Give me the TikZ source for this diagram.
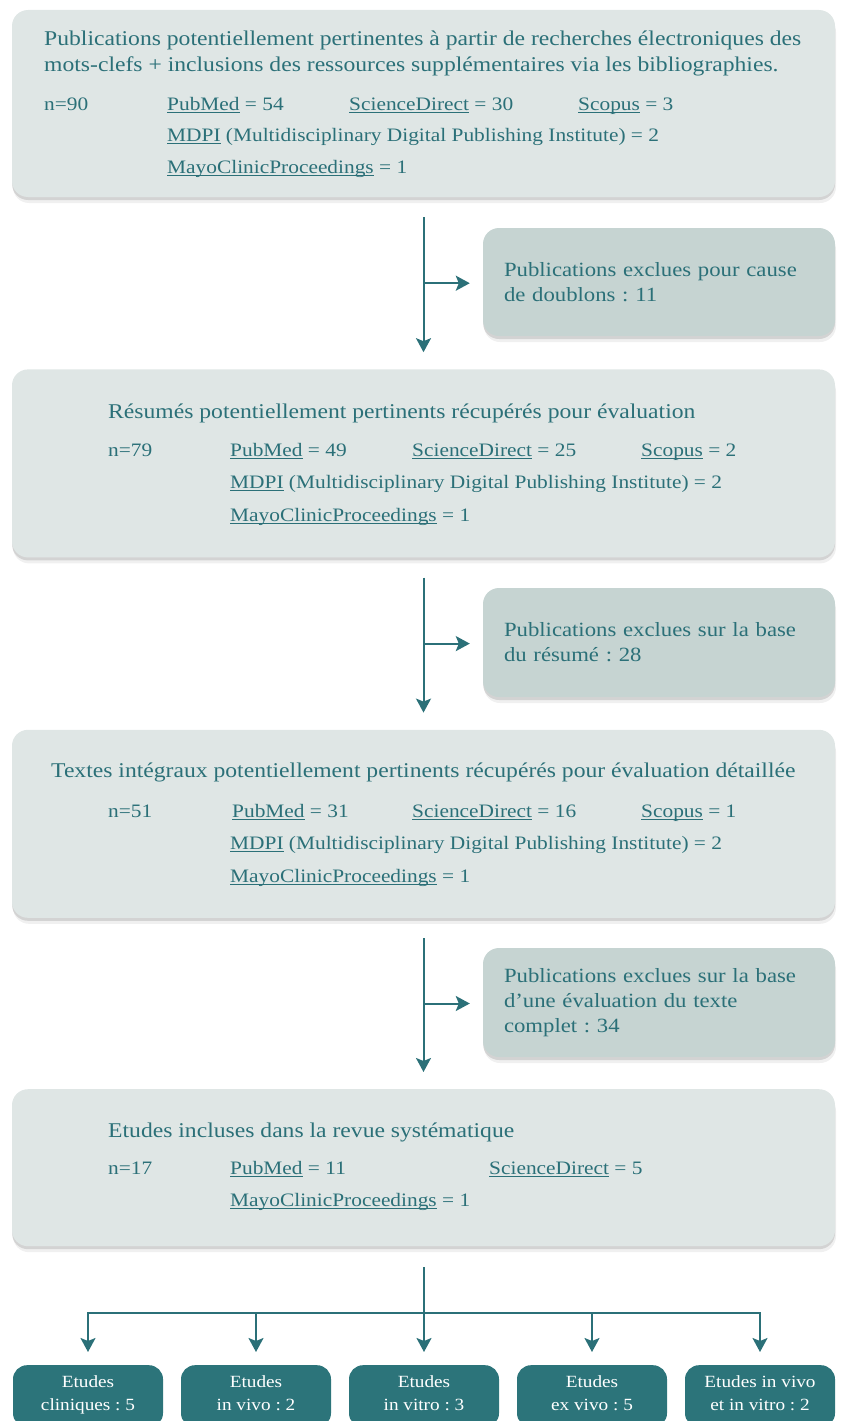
\documentclass[tikz,border=0pt]{standalone}
\usepackage{fontspec}
\setmainfont{Liberation Serif}[FakeStretch=1.125]
\usetikzlibrary{arrows.meta, positioning, shadows, calc}

\definecolor{tealtext}{HTML}{2B7078}
\definecolor{boxlight}{HTML}{DFE6E5}
\definecolor{boxexcl}{HTML}{C6D4D2}
\definecolor{boxdark}{HTML}{2C747A}

\newcommand{\boxheadfont}{\fontsize{21}{25}\selectfont}
\newcommand{\boxsubfont}{\fontsize{19}{25}\selectfont}
\newcommand{\exclfont}{\fontsize{20.2}{25}\selectfont}
\newcommand{\studyfont}{\fontsize{17.1}{23}\selectfont}
\newsavebox\srcbox
\newcommand{\src}[1]{\sbox\srcbox{#1}\rlap{\rule[-2.6pt]{\wd\srcbox}{0.9pt}}\usebox\srcbox}
\frenchspacing

\begin{document}
\begin{tikzpicture}[x=1pt, y=-1pt, node distance=172pt,
    softshadow/.style={drop shadow={shadow xshift=0pt, shadow yshift=-3pt, opacity=.12, fill=black},
                       drop shadow={shadow xshift=1pt, shadow yshift=-6pt, opacity=.06, fill=black}},
    mainbox/.style={rectangle, rounded corners=16pt, fill=boxlight, minimum width=823pt, inner sep=0pt, softshadow},
    exclbox/.style={rectangle, rounded corners=16pt, fill=boxexcl, minimum width=352pt, minimum height=108pt,
                    inner sep=0pt, softshadow, text=tealtext, font=\exclfont, align=left, text width=310pt},
    studybox/.style={rectangle, rounded corners=14pt, fill=boxdark, text=white, minimum width=150pt,
                     minimum height=62pt, align=center, font=\studyfont, anchor=north, execute at end node=\strut},
    headline/.style={anchor=base west, inner sep=0pt, text=tealtext, font=\boxheadfont},
    srcline/.style={anchor=base west, inner sep=0pt, text=tealtext, font=\boxsubfont},
    flow/.style={draw=tealtext, line width=2pt, -{Stealth[length=14pt, width=15pt, inset=3pt]}}]

    \clip (0,0) rectangle (844,1421);

    % main boxes
    \node (box1) [mainbox, minimum height=187pt] at (423.5,103.5) {};
    \node (box2) [mainbox, minimum height=188pt, below=of box1] {};
    \node (box3) [mainbox, minimum height=188pt, below=of box2] {};
    \node (box4) [mainbox, minimum height=157pt, below=171pt of box3] {};

    % excluded
    \node (excl1) [exclbox] at (659,282) {Publications exclues pour cause\\de doublons : 11};
    \node (excl2) [exclbox, minimum height=109pt] at (659,642.5) {Publications exclues sur la base\\du résumé : 28};
    \node (excl3) [exclbox, minimum height=109pt] at (659,1002.5) {Publications exclues sur la base\\d’une évaluation du texte\\complet : 34};

    % box 1
    \node (t1a) [headline] at (44,46) {Publications potentiellement pertinentes à partir de recherches électroniques des};
    \node (t1b) [headline] at (44,71) {mots-clefs + inclusions des ressources supplémentaires via les bibliographies.};
    \node (n1) [srcline] at (44,110) {n=90};
    \node (pm1) [srcline] at (167,110) {\src{PubMed} = 54};
    \node (sd1) [srcline] at (349,110) {\src{ScienceDirect} = 30};
    \node (sc1) [srcline] at (578,110) {\src{Scopus} = 3};
    \node (md1) [srcline] at (167,141) {\src{MDPI} (Multidisciplinary Digital Publishing Institute) = 2};
    \node (mc1) [srcline] at (167,173) {\src{MayoClinicProceedings} = 1};

    % box 2
    \node (t2) [headline] at (108,418) {Résumés potentiellement pertinents récupérés pour évaluation};
    \node (n2) [srcline] at (108,456) {n=79};
    \node (pm2) [srcline] at (230,456) {\src{PubMed} = 49};
    \node (sd2) [srcline] at (412,456) {\src{ScienceDirect} = 25};
    \node (sc2) [srcline] at (641,456) {\src{Scopus} = 2};
    \node (md2) [srcline] at (230,488) {\src{MDPI} (Multidisciplinary Digital Publishing Institute) = 2};
    \node (mc2) [srcline] at (230,521) {\src{MayoClinicProceedings} = 1};

    % box 3
    \node (t3) [headline] at (51,777) {Textes intégraux potentiellement pertinents récupérés pour évaluation détaillée};
    \node (n3) [srcline] at (108,817) {n=51};
    \node (pm3) [srcline] at (232,817) {\src{PubMed} = 31};
    \node (sd3) [srcline] at (412,817) {\src{ScienceDirect} = 16};
    \node (sc3) [srcline] at (641,817) {\src{Scopus} = 1};
    \node (md3) [srcline] at (230,849) {\src{MDPI} (Multidisciplinary Digital Publishing Institute) = 2};
    \node (mc3) [srcline] at (230,882) {\src{MayoClinicProceedings} = 1};

    % box 4
    \node (t4) [headline] at (108,1137) {Etudes incluses dans la revue systématique};
    \node (n4) [srcline] at (108,1174) {n=17};
    \node (pm4) [srcline] at (230,1174) {\src{PubMed} = 11};
    \node (sd4) [srcline] at (489,1174) {\src{ScienceDirect} = 5};
    \node (mc4) [srcline] at (230,1206) {\src{MayoClinicProceedings} = 1};

    % study types
    \node (s1) [studybox] at (88,1365) {Etudes\\cliniques : 5};
    \node (s2) [studybox] at (256,1365) {Etudes\\in vivo : 2};
    \node (s3) [studybox] at (424,1365) {Etudes\\in vitro : 3};
    \node (s4) [studybox] at (592,1365) {Etudes\\ex vivo : 5};
    \node (s5) [studybox] at (760,1365) {Etudes in vivo\\et in vitro : 2};

    % arrows
    \coordinate (m1) at ($(box1.south)!0.5!(box2.north)$);
    \coordinate (m2) at ($(box2.south)!0.5!(box3.north)$);
    \coordinate (m3) at ($(box3.south)!0.5!(box4.north)$);
    \draw[flow, shorten <=20pt, shorten >=17pt] (box1.south) -- (box2.north);
    \draw[flow, shorten <=20pt, shorten >=17pt] (box2.south) -- (box3.north);
    \draw[flow, shorten <=20pt, shorten >=17pt] (box3.south) -- (box4.north);
    \draw[flow, shorten >=13pt] (m1) -- (m1 -| excl1.west);
    \draw[flow, shorten >=13pt] (m2) -- (m2 -| excl2.west);
    \draw[flow, shorten >=13pt] (m3) -- (m3 -| excl3.west);

    \coordinate (hub) at (424,1313);
    \draw[draw=tealtext, line width=2pt, shorten <=21pt] (box4.south -| hub) -- (hub);
    \foreach \s in {s1,s2,s3,s4,s5}
        \draw[flow, shorten >=13pt] (hub) -| (\s.north);

\end{tikzpicture}
\end{document}
